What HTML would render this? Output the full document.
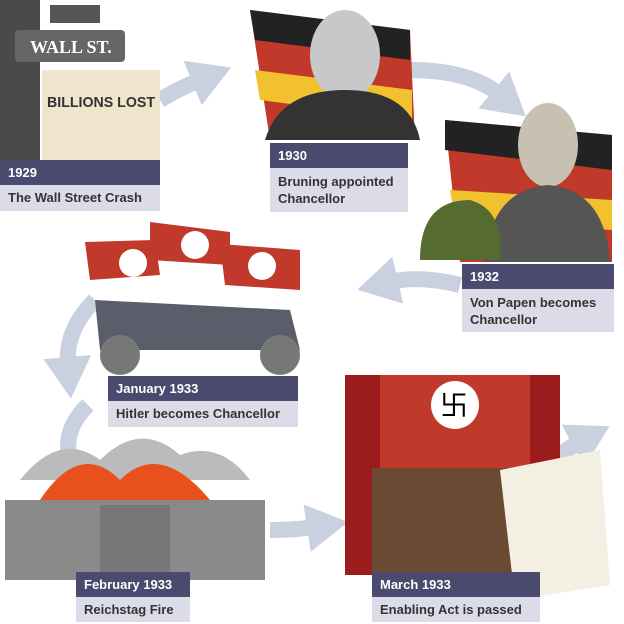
<!DOCTYPE html>
<html><head><style>
body{margin:0;width:624px;height:624px;background:#fff;position:relative;overflow:hidden;font-family:"Liberation Sans",sans-serif}
.h{position:absolute;background:#4a4a6e;color:#fff;font-weight:bold;font-size:13px;padding-left:8px;box-sizing:border-box;height:25px;line-height:25px}
.b{position:absolute;background:#dcdce8;color:#333;font-weight:bold;font-size:13px;padding:5px 8px;box-sizing:border-box;line-height:17px}
svg{position:absolute;left:0;top:0}
</style></head><body>
<svg width="624" height="624">
<defs><marker id="a" markerWidth="2.6" markerHeight="3" refX="0.5" refY="1.5" orient="auto"><path d="M0,0 L2.6,1.5 L0,3z" fill="#c9d0e0"/></marker></defs>
<g fill="none" stroke="#c9d0e0" stroke-width="16">
<path d="M160,100 Q180,88 200,80" marker-end="url(#a)"/>
<path d="M410,70 Q470,70 500,95" marker-end="url(#a)"/>
<path d="M460,285 Q420,275 390,282" marker-end="url(#a)"/>
<path d="M95,300 Q65,330 68,365" marker-end="url(#a)"/>
<path d="M88,405 Q62,430 70,460" />
<path d="M270,530 Q295,530 315,527" marker-end="url(#a)"/>
<path d="M545,465 Q565,450 580,442" marker-end="url(#a)"/>
</g>
<rect x="0" y="0" width="40" height="160" fill="#4a4a4a"/>
<rect x="15" y="30" width="110" height="32" rx="4" fill="#666"/>
<text x="30" y="53" fill="#fff" font-family="Liberation Serif" font-weight="bold" font-size="18">WALL ST.</text>
<rect x="50" y="5" width="50" height="18" fill="#555"/>
<rect x="42" y="70" width="118" height="90" fill="#efe4cc"/>
<text x="47" y="107" font-weight="bold" font-size="15" fill="#333" textLength="108" lengthAdjust="spacingAndGlyphs">BILLIONS LOST</text>
<polygon points="250,10 410,30 415,140 270,140" fill="#c0392b"/>
<polygon points="250,10 410,30 410,60 255,40" fill="#222"/>
<polygon points="255,70 412,90 412,120 260,100" fill="#f2c12e"/>
<ellipse cx="345" cy="55" rx="35" ry="45" fill="#c8c8c8"/>
<path d="M265,140 Q280,90 345,90 Q410,90 420,140z" fill="#333"/>
<polygon points="445,120 612,135 612,262 460,262" fill="#c0392b"/>
<polygon points="445,120 612,135 612,170 445,150" fill="#222"/>
<polygon points="450,190 612,200 612,230 455,220" fill="#f2c12e"/>
<ellipse cx="548" cy="145" rx="30" ry="42" fill="#c8c0b0"/>
<path d="M485,262 Q490,190 548,185 Q605,190 610,262z" fill="#555"/>
<path d="M420,260 Q420,200 470,200 Q505,210 500,260z" fill="#556b2f"/>
<polygon points="85,242 155,240 160,275 90,280" fill="#c0392b"/>
<polygon points="150,222 230,232 230,265 150,260" fill="#c0392b"/>
<polygon points="220,244 300,250 300,290 225,285" fill="#c0392b"/>
<circle cx="133" cy="263" r="14" fill="#fff"/><circle cx="195" cy="245" r="14" fill="#fff"/><circle cx="262" cy="266" r="14" fill="#fff"/>
<path d="M95,300 L290,310 L300,350 L100,350z" fill="#5a5e6a"/>
<circle cx="120" cy="355" r="20" fill="#777"/><circle cx="280" cy="355" r="20" fill="#777"/>
<path d="M20,480 Q60,430 100,460 Q140,420 180,455 Q220,440 250,480z" fill="#bbb"/>
<path d="M40,500 Q80,440 120,480 Q160,440 210,500z" fill="#e8501c"/>
<rect x="5" y="500" width="260" height="80" fill="#8a8a8a"/>
<rect x="100" y="505" width="70" height="75" fill="#777"/>
<rect x="345" y="375" width="215" height="200" fill="#9b1c1c"/>
<rect x="380" y="375" width="150" height="95" fill="#c0392b"/>
<circle cx="455" cy="405" r="24" fill="#fff"/>
<text x="440" y="415" font-size="28" fill="#000">卐</text>
<rect x="372" y="468" width="180" height="105" fill="#6b4a34"/>
<polygon points="500,470 600,450 610,585 515,600" fill="#f3efe2"/>
</svg>
<div class="h" style="left:0;top:160px;width:160px">1929</div>
<div class="b" style="left:0;top:185px;width:160px;height:26px;padding-top:4px">The Wall Street Crash</div>
<div class="h" style="left:270px;top:143px;width:138px">1930</div>
<div class="b" style="left:270px;top:168px;width:138px;height:44px">Bruning appointed Chancellor</div>
<div class="h" style="left:462px;top:264px;width:152px">1932</div>
<div class="b" style="left:462px;top:289px;width:152px;height:43px">Von Papen becomes Chancellor</div>
<div class="h" style="left:108px;top:376px;width:190px">January 1933</div>
<div class="b" style="left:108px;top:401px;width:190px;height:26px;padding-top:4px">Hitler becomes Chancellor</div>
<div class="h" style="left:76px;top:572px;width:114px">February 1933</div>
<div class="b" style="left:76px;top:597px;width:114px;height:25px;padding-top:4px">Reichstag Fire</div>
<div class="h" style="left:372px;top:572px;width:168px">March 1933</div>
<div class="b" style="left:372px;top:597px;width:168px;height:25px;padding-top:4px">Enabling Act is passed</div>
</body></html>
